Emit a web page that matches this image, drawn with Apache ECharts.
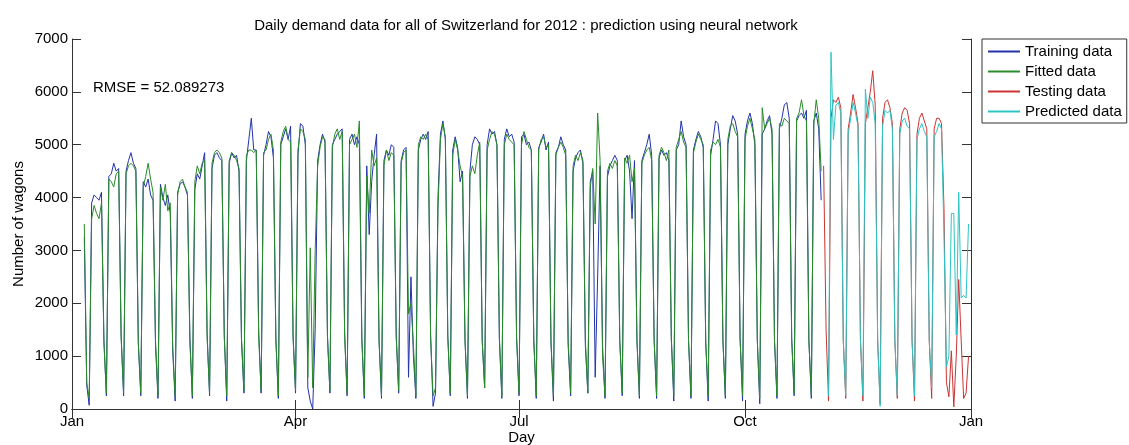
<!DOCTYPE html>
<html>
<head>
<meta charset="utf-8">
<script src="https://cdn.jsdelivr.net/npm/echarts@6/dist/echarts.min.js"></script>
<style>
  html, body { margin: 0; padding: 0; background: #fff; }
  #chart { width: 1129px; height: 445px; }
</style>
</head>
<body>
<div id="chart"></div>
<script>
// ---- data (daily values, 2012; day index 0 = 1 Jan 2012) ----
const dayCount = 367; // 1 Jan 2012 .. 1 Jan 2013
const monthTickDays = [0, 91, 182, 274, 366];
const monthTickLabels = ['Jan', 'Apr', 'Jul', 'Oct', 'Jan'];
const yTicks = [0, 1000, 2000, 3000, 4000, 5000, 6000, 7000];
const rmseText = 'RMSE = 52.089273';
const seriesNames = ['Training data', 'Fitted data', 'Testing data', 'Predicted data'];

const trainingStartDay = 5;
const trainingData = [
  3250, 450, 70,
  3900, 4050, 4000, 3950, 4100, 1300, 250,
  4400, 4450, 4650, 4500, 4550, 1400, 250,
  4500, 4700, 4850, 4650, 4550, 1250, 250,
  4300, 4200, 4350, 4050, 3950, 1200, 200,
  4250, 4000, 3850, 4050, 3700, 1100, 150,
  4100, 4250, 4300, 4200, 4050, 1350, 200,
  4150, 4450, 4350, 4600, 4850, 1450, 250,
  4550, 4800, 4850, 4750, 4700, 1400, 150,
  4650, 4850, 4750, 4800, 4500, 1300, 300,
  4700, 5100, 5500, 4900, 4900, 1500, 300,
  4800, 5000, 5250, 5150, 4750, 1300, 200,
  5000, 5150, 5300, 5100, 5350, 1400, 300,
  4800, 5400, 5350, 5000, 400, 150, 0,
  1500, 4700, 5000, 5200, 5050, 1400, 300,
  5000, 5100, 5200, 5250, 5300, 1450, 250,
  5100, 5200, 5000, 5150, 5000, 1300, 200,
  4600, 3300, 4300, 4800, 5200, 1300, 200,
  4700, 4900, 4800, 5000, 4950, 1400, 300,
  4700, 4900, 4950, 600, 2500, 1000, 200,
  4900, 5100, 5200, 5100, 5250, 1400, 50,
  300, 4000, 5200, 5450, 5100, 1400, 250,
  4900, 5150, 4950, 4300, 4500, 1300, 200,
  4500, 5000, 5150, 5100, 5000, 1300, 400,
  5000, 5300, 5200, 5250, 5000, 1300, 200,
  5100, 5300, 5150, 5200, 5050, 1350, 250,
  5150, 5200, 5000, 5050, 4900, 1300, 200,
  4950, 5050, 5200, 4900, 5050, 1250, 150,
  4850, 4950, 5150, 5000, 4900, 1200, 250,
  4500, 4750, 4850, 4900, 4650, 1200, 300,
  4300, 4500, 600, 2500, 4600, 1200, 200,
  4400, 4600, 4700, 4800, 4700, 1300, 250,
  4700, 4800, 4500, 3600, 4700, 1300, 200,
  4700, 4850, 5000, 5200, 4800, 1300, 200,
  4750, 4900, 4800, 4850, 4700, 1350, 150,
  4900, 5000, 5450, 5150, 5000, 1300, 200,
  4900, 5100, 5250, 5150, 4950, 1250, 150,
  4800, 5100, 5450, 5400, 5000, 1300, 200,
  5000, 5300, 5550, 5450, 5200, 1350, 150,
  5200, 5450, 5600, 5400, 5000, 1300, 100,
  5200, 5300, 5450, 5550, 5200, 1300, 200,
  5300, 5500, 5750, 5800, 5500, 1350, 250,
  5450, 5550, 5600, 5500, 5650, 1300, 200,
  5450, 5600, 5300, 3950
];

const fittedStartDay = 5;
const fittedData = [
  3500, 500, 200,
  3600, 3850, 3700, 3600, 3900, 1250, 300,
  4350, 4300, 4200, 4450, 4500, 1350, 300,
  4450, 4600, 4650, 4600, 4500, 1250, 300,
  4200, 4400, 4650, 4350, 4100, 1300, 250,
  4200, 3950, 4250, 3750, 3900, 1200, 250,
  4050, 4300, 4350, 4200, 4100, 1250, 250,
  4300, 4600, 4450, 4650, 4700, 1350, 300,
  4650, 4850, 4900, 4850, 4750, 1350, 250,
  4700, 4850, 4800, 4700, 4550, 1350, 350,
  4800, 4900, 4900, 4850, 4900, 1350, 350,
  4850, 4900, 5100, 5200, 4900, 1350, 250,
  5050, 5250, 5350, 5100, 5050, 1350, 350,
  4900, 5300, 5250, 5100, 600, 3050, 400,
  3000, 4600, 4950, 5150, 5100, 1350, 350,
  4950, 5200, 5300, 5100, 5250, 1350, 300,
  5000, 5100, 5200, 4950, 5450, 1350, 250,
  4400, 3700, 4900, 4600, 4750, 1300, 250,
  4600, 4900, 4700, 4850, 4800, 1350, 350,
  4650, 4850, 4900, 1800, 2000, 1200, 250,
  5000, 5150, 5100, 5200, 5100, 1350, 250,
  400, 3800, 5100, 5400, 5150, 1350, 300,
  4800, 5100, 4900, 4600, 4400, 1300, 250,
  4400, 4600, 4450, 4800, 5050, 1300, 400,
  4900, 5100, 5250, 5200, 5000, 1350, 250,
  5000, 5200, 5100, 5050, 5000, 1350, 300,
  5000, 5250, 5100, 4950, 4900, 1300, 250,
  4900, 5100, 5150, 4950, 5000, 1300, 250,
  4800, 4950, 5050, 4950, 4800, 1300, 300,
  4600, 4800, 4700, 4850, 4700, 1300, 300,
  4200, 4550, 3500, 5600, 4700, 1000, 250,
  4500, 4650, 4550, 4700, 4600, 1300, 300,
  4750, 4650, 4800, 4300, 4550, 1300, 250,
  4650, 4800, 4900, 4950, 4700, 1300, 250,
  4800, 4950, 4850, 4700, 4900, 1300, 250,
  4950, 5100, 5250, 5050, 4950, 1300, 250,
  4850, 5050, 5200, 5100, 5000, 1300, 250,
  4900, 5050, 5000, 5100, 4950, 1300, 250,
  5100, 5350, 5400, 5250, 5150, 1300, 250,
  5100, 5350, 5500, 5300, 5100, 1300, 200,
  5700, 5300, 5400, 5500, 5300, 1300, 250,
  5400, 5350, 5500, 5450, 5400, 1300, 300,
  5500, 5600, 5850, 5550, 5450, 1300, 250,
  5400, 5850, 5500, 4500
];

const testingStartDay = 306;
const testingData = [
  4600, 1500, 150,
  5500, 5850, 5800, 5900, 5700, 1300, 200,
  5300, 5600, 5950, 5700, 5400, 1300, 150,
  5400, 5700, 6000, 6400, 5750, 1300, 100,
  5500, 5800, 5850, 5700, 5400, 1300, 200,
  5300, 5600, 5700, 5650, 5400, 1300, 150,
  5200, 5500, 5600, 5450, 5300, 1300, 200,
  5300, 5500, 5500, 5400, 3800, 500, 230,
  1100, 40, 1000, 2450, 1300, 200, 300,
  1000
];

const predictedStartDay = 308;
const predictedData = [
  250,
  6750, 5100, 5750, 5800, 5600, 1300, 250,
  5200, 5500, 5800, 5600, 5350, 1300, 250,
  6050, 5500, 5900, 5800, 5400, 1300, 50,
  5350, 5650, 5600, 5650, 5300, 1300, 250,
  5200, 5450, 5500, 5350, 5300, 1300, 250,
  5100, 5300, 5400, 5250, 5150, 1300, 400,
  5150, 5250, 5400, 5300, 3300, 800, 1000,
  3700, 3700, 1400, 4100, 2100, 2150, 2100,
  3500
];

// ---- build ----
const days = Array.from({ length: dayCount }, (_, i) => String(i));
function place(values, start) {
  const out = new Array(dayCount).fill(null);
  values.forEach((v, i) => { out[start + i] = v; });
  return out;
}
const tickSet = new Set(monthTickDays);
const FONT = 'Liberation Sans, Arial, sans-serif';
const AXIS_COLOR = '#333';
const COLORS = ['#2233aa', '#2a8c2a', '#cc3333', '#2ec4c4'];
const seriesValues = [
  place(trainingData, trainingStartDay),
  place(fittedData, fittedStartDay),
  place(testingData, testingStartDay),
  place(predictedData, predictedStartDay)
];

const chart = echarts.init(document.getElementById('chart'), null, { renderer: 'canvas' });
chart.setOption({
  animation: false,
  backgroundColor: '#ffffff',
  color: COLORS,
  textStyle: { fontFamily: FONT },
  title: {
    text: 'Daily demand data for all of Switzerland for 2012 : prediction using neural network',
    left: 521, top: 13, textAlign: 'center',
    textStyle: { fontFamily: FONT, fontSize: 15, fontWeight: 'normal', color: '#000' }
  },
  legend: {
    orient: 'vertical', left: 982, top: 39,
    padding: [5, 5, 4, 6], itemGap: 5, itemWidth: 32, itemHeight: 14,
    icon: 'path://M0,6 L32,6 L32,8 L0,8 Z',
    borderColor: '#333', borderWidth: 1, backgroundColor: '#fff',
    textStyle: { fontFamily: FONT, fontSize: 15, color: '#000', lineHeight: 15 },
    data: seriesNames.map((n, i) => ({
      name: n,
      itemStyle: { color: COLORS[i], borderWidth: 0, opacity: 1 }
    }))
  },
  grid: { left: 72, right: 158, top: 39, bottom: 36, containLabel: false, outerBoundsMode: 'none' },
  xAxis: [{
    type: 'category', data: days, boundaryGap: false, position: 'bottom',
    name: 'Day', nameLocation: 'middle', nameGap: 21, nameMoveOverlap: false,
    nameTextStyle: { fontFamily: FONT, fontSize: 15, color: '#000' },
    axisLine: { lineStyle: { color: AXIS_COLOR, width: 1 } },
    axisTick: { inside: true, length: 9, interval: (i) => tickSet.has(i), lineStyle: { color: AXIS_COLOR } },
    axisLabel: {
      interval: (i) => tickSet.has(i), margin: 5, color: '#000', fontSize: 15, fontFamily: FONT,
      formatter: (v) => monthTickLabels[monthTickDays.indexOf(Number(v))] || ''
    },
    splitLine: { show: false }
  }, {
    type: 'category', data: days, boundaryGap: false, position: 'top',
    axisLine: { lineStyle: { color: AXIS_COLOR, width: 1 } },
    axisTick: { inside: true, length: 9, interval: (i) => tickSet.has(i), lineStyle: { color: AXIS_COLOR } },
    axisLabel: { show: false }, splitLine: { show: false }
  }],
  yAxis: [{
    type: 'value', min: yTicks[0], max: yTicks[yTicks.length - 1], interval: 1000, position: 'left',
    name: 'Number of wagons', nameLocation: 'middle', nameGap: 46, nameMoveOverlap: false,
    nameTextStyle: { fontFamily: FONT, fontSize: 15, color: '#000' },
    axisLine: { show: true, lineStyle: { color: AXIS_COLOR, width: 1 } },
    axisTick: { show: true, inside: true, length: 9, lineStyle: { color: AXIS_COLOR } },
    axisLabel: { margin: 4, color: '#000', fontSize: 15, fontFamily: FONT, formatter: (v) => String(v) },
    splitLine: { show: false }
  }, {
    type: 'value', min: yTicks[0], max: yTicks[yTicks.length - 1], interval: 1000, position: 'right',
    axisLine: { show: true, lineStyle: { color: AXIS_COLOR, width: 1 } },
    axisTick: { show: true, inside: true, length: 9, lineStyle: { color: AXIS_COLOR } },
    axisLabel: { show: false }, splitLine: { show: false }
  }],
  graphic: [{
    type: 'text', left: 93, top: 80,
    style: { text: rmseText, fontFamily: FONT, fontSize: 15, fill: '#000' }
  }],
  series: seriesNames.map((n, i) => ({
    name: n, type: 'line', data: seriesValues[i], symbol: 'none', connectNulls: false,
    lineStyle: { width: 1, color: COLORS[i] }, itemStyle: { color: COLORS[i] }
  }))
});
</script>
</body>
</html>
